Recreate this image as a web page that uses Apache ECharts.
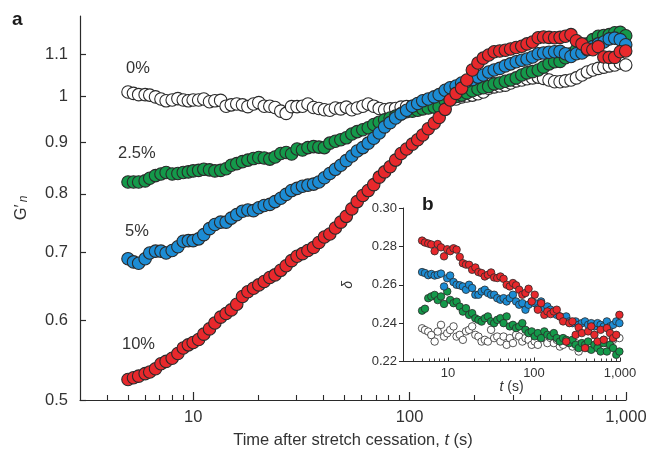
<!DOCTYPE html>
<html>
<head>
<meta charset="utf-8">
<script src="https://cdn.jsdelivr.net/npm/echarts@6/dist/echarts.min.js"></script>
<style>
html, body { margin: 0; padding: 0; background: #fff; }
#chart { width: 658px; height: 449px; }
</style>
</head>
<body>
<div id="chart"></div>
<script>
// ---- panel a: normalized storage modulus after stretch cessation ----
const times = [5.0, 5.3, 5.6, 6.0, 6.3, 6.7, 7.1, 7.5, 8.0, 8.5, 9.0, 9.5, 10, 10.6, 11.2, 11.9, 12.6, 13.4, 14.2, 15.0,
  15.9, 16.9, 17.9, 19.0, 20.1, 21.3, 22.6, 23.9, 25.4, 26.9, 28.5, 30.2, 32.0, 33.9, 36.0, 38.1, 40.4, 42.8, 45.4, 48.1,
  51.0, 54.1, 57.3, 60.8, 64.4, 68.3, 72.4, 76.7, 81.3, 86.2, 91.4, 96.9, 103, 109, 115, 122, 130, 137, 146, 154,
  164, 174, 184, 195, 207, 219, 232, 246, 261, 277, 293, 311, 330, 349, 370, 393, 416, 441, 468, 496,
  525, 557, 590, 626, 663, 703, 745, 790, 837, 887, 941, 997];

const strain0 = [1.009, 1.006, 1.003, 1.003, 1.002, 0.998, 0.993, 0.989, 0.991, 0.994, 0.991, 0.989, 0.991, 0.991, 0.993, 0.987, 0.989, 0.990, 0.977, 0.980,
  0.982, 0.980, 0.976, 0.982, 0.985, 0.977, 0.977, 0.974, 0.966, 0.961, 0.976, 0.976, 0.977, 0.982, 0.974, 0.972, 0.969, 0.968, 0.973, 0.971,
  0.975, 0.969, 0.973, 0.977, 0.982, 0.977, 0.972, 0.969, 0.971, 0.972, 0.975, 0.976, 0.977, 0.980, 0.982, 0.982, 0.984, 0.986, 0.989, 0.991,
  0.993, 0.998, 1.000, 1.002, 1.005, 1.009, 1.018, 1.021, 1.023, 1.025, 1.030, 1.035, 1.037, 1.040, 1.042, 1.044, 1.041, 1.037, 1.033, 1.033,
  1.035, 1.037, 1.042, 1.049, 1.056, 1.061, 1.065, 1.068, 1.071, 1.073, 1.078, 1.073];

const strain25 = [0.822, 0.822, 0.822, 0.824, 0.829, 0.834, 0.837, 0.840, 0.837, 0.838, 0.840, 0.841, 0.843, 0.844, 0.846, 0.845, 0.843, 0.844, 0.847, 0.854,
  0.857, 0.861, 0.864, 0.867, 0.869, 0.868, 0.866, 0.870, 0.877, 0.879, 0.876, 0.886, 0.884, 0.889, 0.891, 0.890, 0.889, 0.898, 0.902, 0.905,
  0.909, 0.917, 0.922, 0.926, 0.930, 0.937, 0.942, 0.947, 0.951, 0.955, 0.960, 0.965, 0.966, 0.968, 0.971, 0.973, 0.975, 0.976, 0.990, 0.995,
  0.999, 1.002, 1.007, 1.012, 1.016, 1.019, 1.022, 1.028, 1.030, 1.034, 1.037, 1.042, 1.049, 1.054, 1.057, 1.061, 1.068, 1.076, 1.081, 1.082,
  1.091, 1.101, 1.111, 1.119, 1.126, 1.137, 1.146, 1.148, 1.150, 1.155, 1.156, 1.147];

const strain5 = [0.690, 0.685, 0.683, 0.690, 0.699, 0.702, 0.702, 0.699, 0.703, 0.709, 0.718, 0.719, 0.719, 0.722, 0.729, 0.739, 0.746, 0.750, 0.750, 0.757,
  0.763, 0.769, 0.771, 0.770, 0.775, 0.779, 0.781, 0.786, 0.792, 0.799, 0.806, 0.810, 0.814, 0.816, 0.818, 0.822, 0.830, 0.838, 0.846, 0.854,
  0.863, 0.872, 0.882, 0.889, 0.898, 0.908, 0.919, 0.932, 0.941, 0.951, 0.960, 0.968, 0.977, 0.983, 0.989, 0.993, 0.998, 1.003, 1.013, 1.019,
  1.023, 1.030, 1.034, 1.038, 1.044, 1.049, 1.056, 1.061, 1.065, 1.071, 1.076, 1.081, 1.085, 1.088, 1.093, 1.101, 1.103, 1.105, 1.106, 1.107,
  1.101, 1.094, 1.101, 1.103, 1.111, 1.119, 1.126, 1.131, 1.139, 1.141, 1.137, 1.124];

const strain10 = [0.524, 0.526, 0.528, 0.531, 0.533, 0.537, 0.543, 0.546, 0.550, 0.556, 0.563, 0.567, 0.570, 0.574, 0.581, 0.588, 0.596, 0.604, 0.609, 0.614,
  0.622, 0.633, 0.640, 0.645, 0.650, 0.655, 0.661, 0.665, 0.672, 0.679, 0.687, 0.694, 0.698, 0.703, 0.708, 0.716, 0.725, 0.730, 0.740, 0.750,
  0.760, 0.773, 0.786, 0.797, 0.806, 0.817, 0.831, 0.841, 0.851, 0.864, 0.877, 0.886, 0.896, 0.905, 0.915, 0.928, 0.940, 0.952, 0.970, 0.991,
  1.006, 1.018, 1.037, 1.061, 1.078, 1.090, 1.098, 1.106, 1.108, 1.110, 1.113, 1.117, 1.120, 1.126, 1.131, 1.142, 1.144, 1.143, 1.142, 1.143,
  1.146, 1.150, 1.134, 1.126, 1.113, 1.111, 1.119, 1.093, 1.092, 1.092, 1.106, 1.108];

// ---- panel b: loss tangent delta ----
const insetTimes = [5.0, 5.4, 5.9, 6.4, 7.0, 7.6, 8.3, 9.0, 9.8, 10.6, 11.6, 12.6, 13.7, 14.9, 16.2, 17.6, 19.1, 20.8, 22.6, 24.6,
  26.8, 29.1, 31.7, 34.4, 37.4, 40.7, 44.3, 48.1, 52.3, 56.9, 61.9, 67.3, 73.2, 79.6, 86.5, 94.1, 102, 111, 121, 132,
  143, 156, 170, 184, 200, 218, 237, 258, 280, 305, 331, 360, 392, 426, 463, 504, 548, 595, 647, 704, 765, 832, 905, 984];

const delta0 = [0.2373, 0.2364, 0.2356, 0.2338, 0.2304, 0.2356, 0.2391, 0.2330, 0.2347, 0.2364,
  0.2383, 0.2330, 0.2339, 0.2313, 0.2357, 0.2365, 0.2383, 0.2339, 0.2330, 0.2304,
  0.2313, 0.2304, 0.2365, 0.2322, 0.2330, 0.2304, 0.2330, 0.2287, 0.2322, 0.2296,
  0.2339, 0.2330, 0.2304, 0.2322, 0.2313, 0.2287, 0.2304, 0.2287, 0.2339, 0.2322,
  0.2296, 0.2322, 0.2296, 0.2313, 0.2278, 0.2287, 0.2304, 0.2296, 0.2278, 0.2296,
  0.2252, 0.2278, 0.2287, 0.2270, 0.2287, 0.2304, 0.2287, 0.2296, 0.2313, 0.2296,
  0.2304, 0.2313, 0.2330, 0.2322];

const delta25 = [0.2465, 0.2475, 0.2530, 0.2539, 0.2547, 0.2520, 0.2539, 0.2500, 0.2565, 0.2521,
  0.2504, 0.2512, 0.2486, 0.2460, 0.2478, 0.2443, 0.2452, 0.2425, 0.2417, 0.2408,
  0.2425, 0.2435, 0.2409, 0.2400, 0.2417, 0.2426, 0.2400, 0.2435, 0.2383, 0.2391,
  0.2374, 0.2383, 0.2400, 0.2365, 0.2348, 0.2357, 0.2331, 0.2348, 0.2322, 0.2357,
  0.2339, 0.2331, 0.2348, 0.2322, 0.2304, 0.2322, 0.2313, 0.2296, 0.2313, 0.2287,
  0.2270, 0.2296, 0.2287, 0.2304, 0.2261, 0.2287, 0.2270, 0.2252, 0.2296, 0.2252,
  0.2287, 0.2270, 0.2235, 0.2252];

const delta5 = [0.2666, 0.2661, 0.2650, 0.2656, 0.2648, 0.2652, 0.2658, 0.2591, 0.2634, 0.2648,
  0.2614, 0.2600, 0.2597, 0.2591, 0.2574, 0.2600, 0.2583, 0.2548, 0.2548, 0.2565,
  0.2574, 0.2557, 0.2548, 0.2548, 0.2530, 0.2522, 0.2530, 0.2513, 0.2530, 0.2548,
  0.2513, 0.2496, 0.2504, 0.2470, 0.2496, 0.2513, 0.2504, 0.2478, 0.2513, 0.2478,
  0.2487, 0.2470, 0.2452, 0.2443, 0.2435, 0.2426, 0.2435, 0.2409, 0.2400, 0.2409,
  0.2391, 0.2400, 0.2409, 0.2391, 0.2400, 0.2383, 0.2400, 0.2391, 0.2383, 0.2409,
  0.2383, 0.2391, 0.2409, 0.2400];

const delta10 = [0.2830, 0.2820, 0.2815, 0.2810, 0.2775, 0.2812, 0.2795, 0.2748, 0.2785, 0.2775,
  0.2790, 0.2783, 0.2745, 0.2712, 0.2705, 0.2704, 0.2678, 0.2690, 0.2666, 0.2661,
  0.2643, 0.2652, 0.2664, 0.2638, 0.2635, 0.2643, 0.2631, 0.2600, 0.2591, 0.2609,
  0.2597, 0.2574, 0.2548, 0.2557, 0.2579, 0.2513, 0.2548, 0.2470, 0.2504, 0.2443,
  0.2461, 0.2447, 0.2461, 0.2470, 0.2435, 0.2409, 0.2304, 0.2400, 0.2409, 0.2339,
  0.2377, 0.2348, 0.2270, 0.2357, 0.2383, 0.2339, 0.2304, 0.2365, 0.2313, 0.2374,
  0.2348, 0.2322, 0.2339, 0.2443];

// axis ticks
const mainYTicks = [0.5, 0.6, 0.7, 0.8, 0.9, 1, 1.1];
const decadeTicks = [10, 100, 1000];
const minorTimeTicks = [4, 5, 6, 7, 8, 9, 20, 30, 40, 50, 60, 70, 80, 90, 200, 300, 400, 500, 600, 700, 800, 900];

const FONT = '"Liberation Sans", Arial, Helvetica, sans-serif';
const INK = '#2a2a2a';
const TXT = '#333333';
const COLORS = { s0: '#ffffff', s25: '#14994a', s5: '#1c8cd4', s10: '#e8282c' };

const pair = (xs, ys) => xs.map((x, i) => [x, ys[i]]);
const timeLabel = v => (Math.round(v) >= 1000 ? '1,000' : String(Math.round(v)));

function mainSeries(name, values, color) {
  return {
    name, type: 'scatter', xAxisIndex: 0, yAxisIndex: 0,
    data: pair(times, values),
    symbol: 'circle', symbolSize: 12.5,
    itemStyle: { color, borderColor: INK, borderWidth: 1.1, opacity: 1 },
    silent: true, emphasis: { disabled: true }
  };
}
function insetSeries(name, values, color) {
  return {
    name, type: 'scatter', xAxisIndex: 2, yAxisIndex: 1,
    data: pair(insetTimes, values),
    symbol: 'circle', symbolSize: 7.5,
    itemStyle: { color, borderColor: INK, borderWidth: 0.8, opacity: 1 },
    silent: true, emphasis: { disabled: true }
  };
}

const chart = echarts.init(document.getElementById('chart'), null, { renderer: 'canvas' });

const option = {
  animation: false,
  backgroundColor: '#fff',
  textStyle: { fontFamily: FONT },
  grid: [
    { left: 80, top: 16, right: 32, bottom: 49, outerBoundsMode: 'none', containLabel: false },
    { left: 403, top: 208, right: 38, bottom: 87.5, outerBoundsMode: 'none', containLabel: false }
  ],
  xAxis: [
    {
      type: 'log', gridIndex: 0, min: 3, max: 1000, position: 'bottom',
      axisLine: { show: true, lineStyle: { color: INK, width: 1.2 } },
      axisTick: { show: true, inside: true, length: 8, customValues: decadeTicks, lineStyle: { color: INK, width: 1.2 } },
      axisLabel: { customValues: decadeTicks, formatter: timeLabel, fontSize: 16.5, color: TXT, margin: 9, fontFamily: FONT },
      splitLine: { show: false },
      name: 'Time after stretch cessation, {i|t} (s)',
      nameLocation: 'middle', nameGap: 32,
      nameTextStyle: {
        fontSize: 16.5, color: TXT, fontFamily: FONT,
        rich: { i: { fontSize: 16.5, fontStyle: 'italic', color: TXT, fontFamily: FONT } }
      }
    },
    {
      type: 'log', gridIndex: 0, min: 3, max: 1000, position: 'bottom',
      axisLine: { show: false },
      axisTick: { show: true, inside: true, length: 5, customValues: minorTimeTicks, lineStyle: { color: INK, width: 1.1 } },
      axisLabel: { show: false },
      splitLine: { show: false }
    },
    {
      type: 'log', gridIndex: 1, min: 3, max: 1000, position: 'bottom',
      axisLine: { show: true, lineStyle: { color: INK, width: 1 } },
      axisTick: { show: true, inside: true, length: 4, customValues: decadeTicks, lineStyle: { color: INK, width: 1 } },
      axisLabel: { customValues: decadeTicks, formatter: timeLabel, fontSize: 13, color: TXT, margin: 5, fontFamily: FONT },
      splitLine: { show: false },
      name: '{i|t} (s)',
      nameLocation: 'middle', nameGap: 15,
      nameTextStyle: {
        fontSize: 14, color: TXT, fontFamily: FONT,
        rich: { i: { fontSize: 14, fontStyle: 'italic', color: TXT, fontFamily: FONT } }
      }
    },
    {
      type: 'log', gridIndex: 1, min: 3, max: 1000, position: 'bottom',
      axisLine: { show: false },
      axisTick: { show: true, inside: true, length: 3, customValues: minorTimeTicks, lineStyle: { color: INK, width: 0.9 } },
      axisLabel: { show: false },
      splitLine: { show: false }
    }
  ],
  yAxis: [
    {
      type: 'log', gridIndex: 0, min: 0.5, max: 1.2,
      axisLine: { show: true, lineStyle: { color: INK, width: 1.2 } },
      axisTick: { show: true, inside: true, length: 6, customValues: mainYTicks, lineStyle: { color: INK, width: 1.2 } },
      axisLabel: {
        customValues: mainYTicks,
        formatter: v => String(Math.round(v * 10) / 10),
        fontSize: 16.5, color: TXT, margin: 12, fontFamily: FONT
      },
      splitLine: { show: false },
      name: '{g|G′}{n|n}',
      nameLocation: 'middle', nameRotate: 90, nameGap: 50,
      nameTextStyle: {
        color: TXT, fontFamily: FONT,
        rich: {
          g: { fontSize: 16.5, color: TXT, fontFamily: FONT, lineHeight: 18 },
          n: { fontSize: 12, fontStyle: 'italic', color: TXT, fontFamily: FONT, lineHeight: 8, verticalAlign: 'bottom', padding: [0, 0, 0, 2] }
        }
      }
    },
    {
      type: 'value', gridIndex: 1, min: 0.22, max: 0.30, interval: 0.02,
      axisLine: { show: true, lineStyle: { color: INK, width: 1 } },
      axisTick: { show: true, inside: false, length: 4, lineStyle: { color: INK, width: 1 } },
      axisLabel: { formatter: v => v.toFixed(2), fontSize: 13, color: TXT, margin: 6, fontFamily: FONT },
      splitLine: { show: false },
      name: 'δ',
      nameLocation: 'middle', nameRotate: 90, nameGap: 48,
      nameTextStyle: { fontSize: 14, fontStyle: 'italic', color: TXT, fontFamily: FONT }
    }
  ],
  graphic: [
    { type: 'text', x: 12, y: 20, style: { text: 'a', fontSize: 19, fontWeight: 'bold', fontFamily: FONT, fill: '#1a1a1a', verticalAlign: 'middle' } },
    { type: 'text', x: 126, y: 68.5, style: { text: '0%', fontSize: 16.5, fontFamily: FONT, fill: TXT, verticalAlign: 'middle' } },
    { type: 'text', x: 118, y: 153.5, style: { text: '2.5%', fontSize: 16.5, fontFamily: FONT, fill: TXT, verticalAlign: 'middle' } },
    { type: 'text', x: 125, y: 231.5, style: { text: '5%', fontSize: 16.5, fontFamily: FONT, fill: TXT, verticalAlign: 'middle' } },
    { type: 'text', x: 122, y: 344.5, style: { text: '10%', fontSize: 16.5, fontFamily: FONT, fill: TXT, verticalAlign: 'middle' } },
    { type: 'text', x: 422, y: 205, style: { text: 'b', fontSize: 19, fontWeight: 'bold', fontFamily: FONT, fill: '#1a1a1a', verticalAlign: 'middle' } }
  ],
  series: [
    mainSeries('0%', strain0, COLORS.s0),
    mainSeries('2.5%', strain25, COLORS.s25),
    mainSeries('5%', strain5, COLORS.s5),
    mainSeries('10%', strain10, COLORS.s10),
    insetSeries('0%', delta0, COLORS.s0),
    insetSeries('2.5%', delta25, COLORS.s25),
    insetSeries('5%', delta5, COLORS.s5),
    insetSeries('10%', delta10, COLORS.s10)
  ]
};

chart.setOption(option);
</script>
</body>
</html>
